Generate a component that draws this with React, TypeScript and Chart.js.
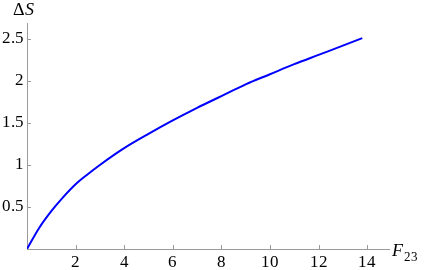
import React, { useEffect, useRef } from "react";
import { Chart, registerables } from "chart.js";

Chart.register(...registerables);

const F23 = [0, 0.5, 1, 1.5, 2, 2.5, 3, 4, 5, 6, 7, 8, 9, 10, 11, 12, 13, 13.8];
const DELTA_S = [0, 0.25, 0.45, 0.62, 0.77, 0.89, 1.0, 1.2, 1.37, 1.53, 1.68, 1.82, 1.96, 2.08, 2.2, 2.31, 2.42, 2.51];
const X_TICKS = [2, 4, 6, 8, 10, 12, 14];
const Y_TICKS = [0.5, 1, 1.5, 2, 2.5];

const AXIS_COLOR = "#9a9a9a";
const SERIF = '"MmaSerif", "Liberation Serif", serif';

const FONT_CSS = `
@font-face { font-family: "MmaSerif"; font-style: normal; font-weight: 400; src: local("Liberation Serif"), local("LiberationSerif"), local("Liberation Serif Regular"); }
@font-face { font-family: "MmaSerif"; font-style: italic; font-weight: 400; src: local("Liberation Serif Italic"), local("LiberationSerif-Italic"); }
`;

const overlay = {
  id: "mmaOverlay",
  afterDraw(chart: any) {
    const ctx = chart.ctx;
    const xs = chart.scales.x;
    const ys = chart.scales.y;
    const area = chart.chartArea;
    ctx.save();
    ctx.strokeStyle = AXIS_COLOR;
    ctx.lineWidth = 1;
    ctx.beginPath();
    for (const v of X_TICKS) {
      const px = Math.round(xs.getPixelForValue(v)) + 0.5;
      ctx.moveTo(px, area.bottom);
      ctx.lineTo(px, area.bottom - 4);
    }
    for (const v of Y_TICKS) {
      const py = Math.round(ys.getPixelForValue(v)) + 0.5;
      ctx.moveTo(area.left, py);
      ctx.lineTo(area.left + 4, py);
    }
    ctx.stroke();

    ctx.fillStyle = "#000";
    ctx.textBaseline = "alphabetic";
    ctx.textAlign = "left";
    ctx.font = `18px ${SERIF}`;
    ctx.fillText("Δ", area.left - 14, area.top - 8);
    ctx.font = `italic 18px ${SERIF}`;
    ctx.fillText("S", area.left - 2, area.top - 8);
    ctx.font = `italic 18px ${SERIF}`;
    ctx.fillText("F", area.right + 3, area.bottom + 7);
    ctx.font = `13px ${SERIF}`;
    ctx.fillText("23", area.right + 15, area.bottom + 12);
    ctx.restore();
  },
};

export default function App() {
  const ref = useRef<HTMLCanvasElement>(null);
  useEffect(() => {
    if (!ref.current) return;
    const chart = new Chart(ref.current, {
      type: "line",
      data: {
        datasets: [
          {
            data: F23.map((x, i) => ({ x, y: DELTA_S[i] })),
            borderColor: "#0000ff",
            borderWidth: 2,
            pointRadius: 0,
            cubicInterpolationMode: "monotone",
            fill: false,
          },
        ],
      },
      options: {
        animation: false,
        responsive: false,
        layout: { padding: { left: 0, top: 23, right: 35, bottom: 0 } },
        plugins: { legend: { display: false }, tooltip: { enabled: false } },
        scales: {
          x: {
            type: "linear",
            min: 0,
            max: 14.9,
            afterFit: (s: any) => {
              s.height = 21;
            },
            afterBuildTicks: (s: any) => {
              s.ticks = X_TICKS.map((v) => ({ value: v }));
            },
            ticks: {
              color: "#000",
              font: { family: SERIF, size: 17 },
              padding: 3,
              maxRotation: 0,
              autoSkip: false,
              callback: (v: any) => String(v),
            },
            grid: { drawOnChartArea: false, drawTicks: false },
            border: { display: true, color: AXIS_COLOR, width: 1 },
          },
          y: {
            type: "linear",
            min: 0,
            max: 2.69,
            afterFit: (s: any) => {
              s.width = 27;
            },
            afterBuildTicks: (s: any) => {
              s.ticks = Y_TICKS.map((v) => ({ value: v }));
            },
            ticks: {
              color: "#000",
              font: { family: SERIF, size: 17 },
              padding: 3,
              autoSkip: false,
              callback: (v: any) => String(v),
            },
            grid: { drawOnChartArea: false, drawTicks: false },
            border: { display: true, color: AXIS_COLOR, width: 1 },
          },
        },
      },
      plugins: [overlay],
    });
    let alive = true;
    const redraw = () => {
      if (alive) chart.update();
    };
    const fonts = (document as any).fonts;
    if (fonts && fonts.load) {
      Promise.all([fonts.load('17px "MmaSerif"'), fonts.load('italic 18px "MmaSerif"')])
        .then(redraw)
        .catch(() => {});
    }
    const t1 = setTimeout(redraw, 50);
    const t2 = setTimeout(redraw, 300);
    return () => {
      alive = false;
      clearTimeout(t1);
      clearTimeout(t2);
      chart.destroy();
    };
  }, []);
  return (
    <div style={{ position: "fixed", left: 0, top: 0, width: 424, height: 270, background: "#fff" }}>
      <style>{FONT_CSS}</style>
      <canvas ref={ref} width={424} height={270} style={{ display: "block" }} />
      <span
        aria-hidden="true"
        style={{ position: "absolute", left: -9999, top: 0, fontFamily: SERIF, fontSize: 17 }}
      >
        0.5 <i>S F</i>
      </span>
    </div>
  );
}
